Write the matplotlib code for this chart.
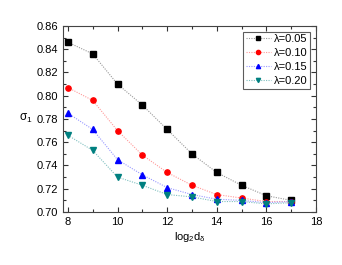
import matplotlib
matplotlib.use("Agg")
from matplotlib import pyplot as plt
from matplotlib.ticker import MultipleLocator

plt.rcParams["font.family"] = ["Liberation Sans", "DejaVu Sans"]
plt.rcParams["mathtext.fontset"] = "custom"
plt.rcParams["mathtext.rm"] = "Liberation Sans"
plt.rcParams["mathtext.it"] = "Liberation Sans"

x = [8, 9, 10, 11, 12, 13, 14, 15, 16, 17]
labels = ["λ=0.05", "λ=0.10", "λ=0.15", "λ=0.20"]
y005 = [0.846, 0.836, 0.810, 0.792, 0.771, 0.750, 0.734, 0.723, 0.714, 0.710]
y010 = [0.807, 0.796, 0.770, 0.749, 0.734, 0.723, 0.715, 0.712, 0.709, 0.709]
y015 = [0.785, 0.771, 0.745, 0.732, 0.721, 0.715, 0.711, 0.710, 0.708, 0.709]
y020 = [0.766, 0.753, 0.730, 0.723, 0.715, 0.713, 0.709, 0.709, 0.707, 0.708]

series = [y005, y010, y015, y020]
colors = ["black", "red", "blue", "#008080"]
line_colors = ["#999999", "#ff9999", "#9999ff", "#80c0c0"]
markers = ["s", "o", "^", "v"]

fig = plt.figure(figsize=(3.42, 2.65), dpi=100)
ax = fig.add_axes([0.184, 0.2, 0.74, 0.702])

for ys, c, lc, m, lab in zip(series, colors, line_colors, markers, labels):
    ax.plot(x, ys, linestyle=(0, (1, 1.2)), color=lc, linewidth=0.8,
            marker=m, markersize=3.8, markerfacecolor=c, markeredgecolor=c,
            label=lab)

ax.set_xlim(7.8, 18)
ax.set_ylim(0.70, 0.86)
ax.xaxis.set_major_locator(MultipleLocator(2))
ax.xaxis.set_minor_locator(MultipleLocator(1))
ax.yaxis.set_major_locator(MultipleLocator(0.02))
ax.yaxis.set_minor_locator(MultipleLocator(0.01))
ax.yaxis.set_major_formatter(matplotlib.ticker.FormatStrFormatter("%.2f"))
ax.tick_params(which="both", direction="in", top=True, right=True,
               labelsize=8, width=0.8, color="#333333")
ax.tick_params(which="major", length=3.5)
ax.tick_params(which="minor", length=2)
for s in ax.spines.values():
    s.set_linewidth(0.8)
    s.set_color("#444444")

ax.set_xlabel(r"log$_2$d$_δ$", fontsize=8, labelpad=2)
ax.set_ylabel(r"σ$_1$", fontsize=8.5, rotation=0)
ax.yaxis.set_label_coords(-0.145, 0.47)

leg = ax.legend(loc="upper right", fontsize=8, frameon=True, fancybox=False,
                edgecolor="#333333", borderaxespad=0.5, handlelength=2.2,
                handletextpad=0.3, borderpad=0.25, labelspacing=0.35,
                markerscale=0.8)
leg.get_frame().set_linewidth(0.8)

plt.savefig("out.png", dpi=100)
